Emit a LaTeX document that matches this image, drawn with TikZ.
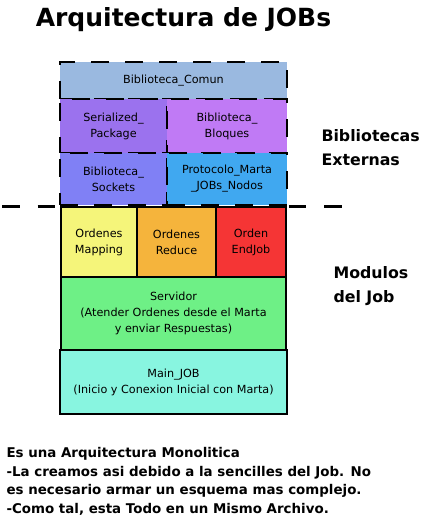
\documentclass[tikz,border=0pt]{standalone}
\usepackage{fontspec}
\setmainfont{DejaVu Sans}
\usetikzlibrary{positioning}

\definecolor{cComun}{HTML}{9AB9E0}
\definecolor{cSerial}{HTML}{9B72EE}
\definecolor{cBloques}{HTML}{C07AF5}
\definecolor{cSockets}{HTML}{8080F5}
\definecolor{cProto}{HTML}{40A8F0}
\definecolor{cMapping}{HTML}{F5F57A}
\definecolor{cReduce}{HTML}{F5B43C}
\definecolor{cEndJob}{HTML}{F53535}
\definecolor{cServ}{HTML}{6EF086}
\definecolor{cMain}{HTML}{88F5E0}

\begin{document}
\begin{tikzpicture}[
    x=1pt, y=-1pt,
    % Define box styles
    libbox/.style={draw=black, line width=2pt, dash pattern=on 18pt off 16pt, align=center,
                   font=\fontsize{11.2}{16}\selectfont, inner sep=0pt},
    modbox/.style={draw=black, line width=1.6pt, align=center,
                   font=\fontsize{11.2}{16}\selectfont, inner sep=0pt},
    sidelabel/.style={anchor=north west, align=left, font=\fontsize{15.8}{24}\selectfont\bfseries},
    separator/.style={line width=3pt, dash pattern=on 17.5pt off 18pt}
]
\useasboundingbox (0,0) rectangle (435,518);

% Title
\node[font=\fontsize{25}{30}\selectfont\bfseries] (title) at (183.5,20) {Arquitectura de JOBs};

% Bibliotecas externas
\node[libbox, fill=cComun, minimum width=227, minimum height=37] (comun) at (173.5,80.5) {Biblioteca\_Comun};
\node[libbox, fill=cSerial, minimum width=107, minimum height=54] (serial) at (113.5,126) {Serialized\_\\Package};
\node[libbox, fill=cBloques, minimum width=120, minimum height=54] (bloques) at (227,126) {Biblioteca\_\\Bloques};
\node[libbox, fill=cSockets, minimum width=107, minimum height=52] (sockets) at (113.5,179) {Biblioteca\_\\Sockets};
\node[libbox, fill=cProto, minimum width=120, minimum height=52] (proto) at (227,179) {Protocolo\_Marta\\\_JOBs\_Nodos};

% Modulos del job
\node[modbox, fill=cMapping, minimum width=76, minimum height=70] (mapping) at (99,242) {Ordenes\\Mapping};
\node[modbox, fill=cReduce, minimum width=79, minimum height=70] (reduce) at (176.5,242) {Ordenes\\Reduce};
\node[modbox, fill=cEndJob, minimum width=70, minimum height=70] (endjob) at (251,242) {Orden\\EndJob};
\node[modbox, fill=cServ, minimum width=225, minimum height=73] (servidor) at (173.5,313.5) {Servidor\\(Atender Ordenes desde el Marta\\y enviar Respuestas)};
\node[modbox, fill=cMain, minimum width=227, minimum height=64] (mainjob) at (173.5,382) {Main\_JOB\\(Inicio y Conexion Inicial con Marta)};

% Separator between libraries and modules
\coordinate (sepL) at (2,207);
\coordinate (sepR) at (345,207);
\draw[separator] (sepL) -- (sepL -| mapping.west);
\draw[separator] (sepR -| endjob.east) ++(2,0) -- (sepR);

% Side labels
\node[sidelabel] (externas) at (318,126) {Bibliotecas\\Externas};
\node[sidelabel] (modulos) at (330,263) {Modulos\\del Job};

% Note below
\node[anchor=north west, align=left, font=\fontsize{13.4}{18.5}\selectfont\bfseries] (nota) at (3,444)
    {Es una Arquitectura Monolitica\\
     -La creamos asi debido a la sencilles del Job. No\\
     es necesario armar un esquema mas complejo.\\
     -Como tal, esta Todo en un Mismo Archivo.};
\end{tikzpicture}
\end{document}
